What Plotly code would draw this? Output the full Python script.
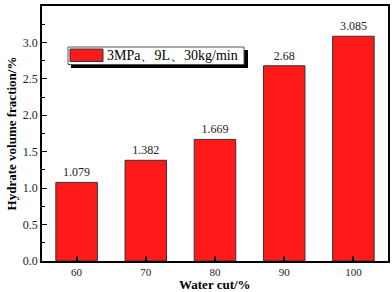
import plotly.graph_objects as go

categories = ["60", "70", "80", "90", "100"]
values = [1.079, 1.382, 1.669, 2.68, 3.085]
value_labels = ["1.079", "1.382", "1.669", "2.68", "3.085"]
legend_label = "3MPa、9L、30kg/min"
x_title = "Water cut/%"
y_title = "Hydrate volume fraction/%"
y_ticks = [0.0, 0.5, 1.0, 1.5, 2.0, 2.5, 3.0, 3.5]

FONT = "Liberation Serif"

fig = go.Figure()
fig.add_trace(go.Bar(
    x=categories, y=values,
    text=value_labels, textposition="outside",
    textfont=dict(family=FONT, size=12, color="#222"),
    marker=dict(color="#FF1A1A", line=dict(color="#333", width=1)),
    showlegend=False, cliponaxis=False,
))

fig.update_layout(
    width=392, height=292,
    margin=dict(l=42, r=4, t=6, b=31),
    paper_bgcolor="white", plot_bgcolor="white",
    bargap=0.4,
    font=dict(family=FONT, size=12, color="#222"),
)
fig.update_xaxes(
    type="category", automargin=False,
    showline=True, linecolor="black", linewidth=1.5, mirror=True,
    ticks="inside", ticklen=5, tickwidth=1.5, tickcolor="black",
    showgrid=False,
    tickfont=dict(family=FONT, size=11, color="#222"),
)
fig.update_yaxes(
    automargin=False,
    range=[0, 3.5], tickvals=y_ticks, ticktext=[f"{v:.1f}" for v in y_ticks],
    showline=True, linecolor="black", linewidth=1.5, mirror=True,
    ticks="inside", ticklen=5, tickwidth=1.2, tickcolor="black",
    minor=dict(dtick=0.25, ticks="inside", ticklen=3, tickcolor="black", tickwidth=1),
    showgrid=False, zeroline=False,
    tickfont=dict(family=FONT, size=12, color="#222"),
    title=dict(text="<b>" + y_title + "</b>", font=dict(family=FONT, size=13, color="black"), standoff=3),
)

# legend box with shadow (paper coordinates)
def px_x(p):
    return (p - 42) / (392 - 42 - 4)

def px_y(p):
    return 1 - (p - 6) / (292 - 6 - 31)

shapes = [
    dict(type="rect", xref="paper", yref="paper",
         x0=px_x(71), x1=px_x(248), y0=px_y(68), y1=px_y(50),
         fillcolor="black", line=dict(width=0)),
    dict(type="rect", xref="paper", yref="paper",
         x0=px_x(68), x1=px_x(244), y0=px_y(64.5), y1=px_y(47),
         fillcolor="white", line=dict(color="#555", width=1)),
    dict(type="rect", xref="paper", yref="paper",
         x0=px_x(70), x1=px_x(103), y0=px_y(61.5), y1=px_y(49),
         fillcolor="#FF1A1A", line=dict(color="#333", width=1)),
]
fig.update_layout(shapes=shapes)
fig.add_annotation(
    xref="paper", yref="paper", x=px_x(105), y=px_y(55.5),
    xanchor="left", yanchor="middle", showarrow=False,
    text=legend_label, font=dict(family=FONT, size=14, color="black"),
)
fig.add_annotation(
    xref="paper", yref="paper", x=0.5, y=px_y(293),
    xanchor="center", yanchor="bottom", showarrow=False, borderpad=0,
    text="<b>" + x_title + "</b>", font=dict(family=FONT, size=13, color="black"),
)

fig.write_html("out.html", config={"displayModeBar": False},
               post_script="document.body.style.margin='0';")
